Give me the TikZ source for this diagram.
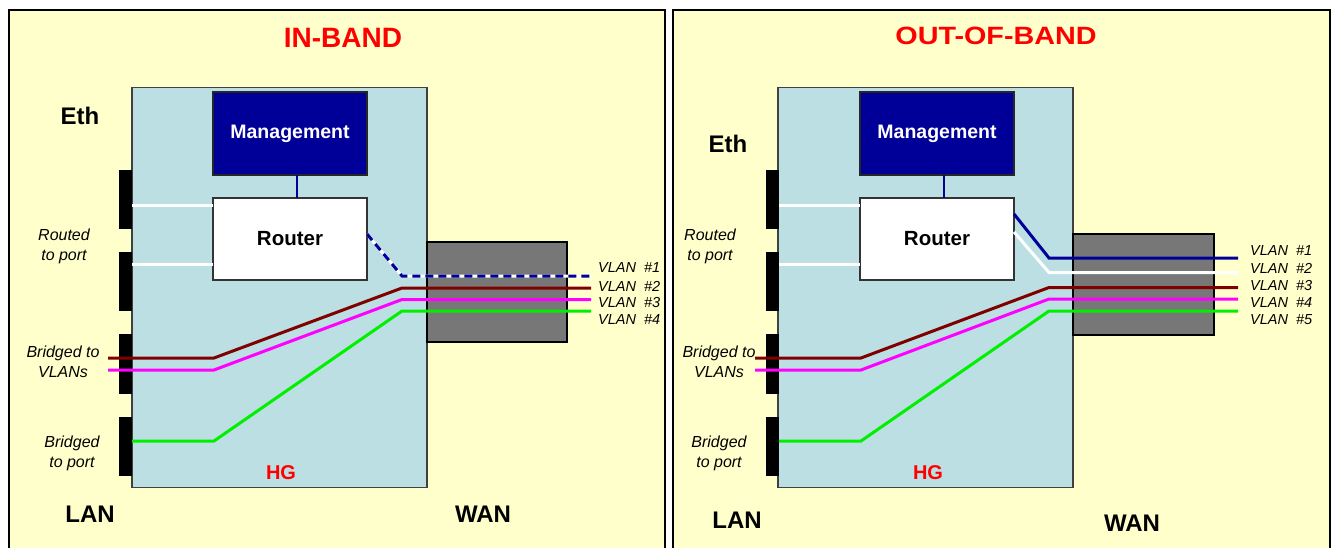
\documentclass[tikz,border=0pt]{standalone}
\usepackage{fontspec}
\setmainfont{Liberation Sans}
\definecolor{bgyellow}{RGB}{255,255,204}
\definecolor{hgblue}{RGB}{187,223,227}
\definecolor{mgmtblue}{RGB}{0,0,153}
\definecolor{wangray}{RGB}{119,119,119}
\definecolor{vbrown}{RGB}{128,0,0}
\definecolor{vmag}{RGB}{255,0,255}
\definecolor{vgreen}{RGB}{0,240,0}
\definecolor{titlered}{RGB}{255,0,0}
\tikzset{
  panel/.style={draw=black, line width=1.3pt, fill=bgyellow},
  hgbox/.style={draw=black!75, line width=1.3pt, fill=hgblue, inner sep=0pt, outer sep=0pt},
  mgmtbox/.style={draw=black!85, line width=1.3pt, fill=mgmtblue, text=white,
    font=\fontsize{19.5}{22}\selectfont\bfseries, inner sep=0pt, outer sep=0pt,
    minimum width=154pt, minimum height=83pt},
  routerbox/.style={draw=black!80, line width=1.3pt, fill=white,
    font=\fontsize{20.5}{23}\selectfont\bfseries, inner sep=0pt, outer sep=0pt,
    minimum width=154pt, minimum height=82pt},
  wanbox/.style={draw=black, line width=1.3pt, fill=wangray, inner sep=0pt, outer sep=0pt},
  port/.style={fill=black, inner sep=0pt, outer sep=0pt, minimum width=13pt, minimum height=59pt},
  title/.style={text=titlered, font=\fontsize{28}{30}\selectfont\bfseries},
  big/.style={font=\fontsize{24}{26}\selectfont\bfseries},
  hglabel/.style={text=titlered, font=\fontsize{20}{22}\selectfont\bfseries},
  side/.style={font=\fontsize{16}{20}\selectfont\itshape, align=center, inner sep=0pt},
  vlan/.style={font=\fontsize{14.5}{16}\selectfont\itshape, anchor=west, inner sep=0pt},
  link/.style={line width=3pt, line join=miter},
  wline/.style={link, draw=white},
  mline/.style={line width=2pt, draw=mgmtblue},
}
\begin{document}
\begin{tikzpicture}[x=1pt, y=-1pt]
\useasboundingbox (0,0) rectangle (1332,548);
\clip (0,0) rectangle (1332,548);
\fill[white] (0,0) rectangle (1332,548);

% ================= LEFT PANEL: IN-BAND =================
\draw[panel] (9,10) rectangle (665,552);
\node[title] (Ltitle) at (343,38) {IN-BAND};
\node[hgbox, minimum width=295pt, minimum height=400pt] (Lhg) at (279.5,287.5) {};
\node[wanbox, minimum width=140pt, minimum height=100pt] (Lwan) at (497,292) {};
\node[port] (Lp1) at (125.5,199.5) {};
\node[port] (Lp2) at (125.5,281.5) {};
\node[port, minimum height=60pt] (Lp3) at (125.5,364) {};
\node[port] (Lp4) at (125.5,446.5) {};
\node[mgmtbox] (Lmg) at (290,133.5) {Management};
\node[routerbox] (Lrt) at (290,239) {Router};
\draw[mline] ([xshift=7pt]Lmg.south) -- ([xshift=7pt]Lrt.north);

\coordinate (Lw1) at (132,205);
\coordinate (Lw2) at (132,264);
\draw[wline] (Lw1) -- (Lw1 -| Lrt.west);
\draw[wline] (Lw2) -- (Lw2 -| Lrt.west);

\coordinate (Ld1) at (402,276);
\coordinate (Ld2) at (591,276);
\draw[wline] ([yshift=5pt]Lrt.east) -- (Ld1) -- (Ld2);
\draw[link, draw=mgmtblue, dash pattern=on 8pt off 5pt] ([yshift=5pt]Lrt.east) -- (Ld1) -- (Ld2);

\coordinate (Lb0) at (108,358);
\coordinate (Lb1) at (214,358);
\coordinate (Lb2) at (402,288);
\coordinate (Lb3) at (591,288);
\draw[link, draw=vbrown] (Lb0) -- (Lb1) -- (Lb2) -- (Lb3);
\coordinate (Lm0) at (108,370);
\coordinate (Lm1) at (214,370);
\coordinate (Lm2) at (402,299.5);
\coordinate (Lm3) at (591,299.5);
\draw[link, draw=vmag] (Lm0) -- (Lm1) -- (Lm2) -- (Lm3);
\coordinate (Lg0) at (Lp4.east |- 0,441);
\coordinate (Lg1) at (214,441);
\coordinate (Lg2) at (402,311);
\coordinate (Lg3) at (591,311);
\draw[link, draw=vgreen] (Lg0) -- (Lg1) -- (Lg2) -- (Lg3);

\node[vlan] (Lv1) at (598,268) {VLAN~ \#1};
\node[vlan] (Lv2) at (598,286) {VLAN~ \#2};
\node[vlan] (Lv3) at (598,303) {VLAN~ \#3};
\node[vlan] (Lv4) at (598,320) {VLAN~ \#4};

\node[big] (Leth) at (80,116) {Eth};
\node[side] (Lrouted) at (64,246) {Routed\\to port};
\node[side] (Lbv) at (63,362) {Bridged to\\VLANs};
\node[side] (Lbp) at (72,453.5) {Bridged\\to port};
\node[hglabel] (Lhgl) at (281,473) {HG};
\node[big] (Llan) at (90,514) {LAN};
\node[big] (Lwanl) at (483,514) {WAN};

% ================= RIGHT PANEL: OUT-OF-BAND =================
\draw[panel] (673,10) rectangle (1330,552);
\node[title, font=\fontsize{25}{28}\selectfont\bfseries, xscale=1.15, transform shape] (Rtitle) at (996,36) {OUT-OF-BAND};
\node[hgbox, minimum width=295pt, minimum height=400pt] (Rhg) at (925.5,287.5) {};
\node[wanbox, minimum width=141pt, minimum height=101pt] (Rwan) at (1143.5,284.5) {};
\node[port] (Rp1) at (772.5,199.5) {};
\node[port] (Rp2) at (772.5,281.5) {};
\node[port, minimum height=60pt] (Rp3) at (772.5,364) {};
\node[port] (Rp4) at (772.5,446.5) {};
\node[mgmtbox] (Rmg) at (937,133.5) {Management};
\node[routerbox] (Rrt) at (937,239) {Router};
\draw[mline] ([xshift=7pt]Rmg.south) -- ([xshift=7pt]Rrt.north);

\coordinate (Rw1) at (779,205.5);
\coordinate (Rw2) at (779,264.5);
\draw[wline] (Rw1) -- (Rw1 -| Rrt.west);
\draw[wline] (Rw2) -- (Rw2 -| Rrt.west);

\coordinate (Ru1) at (1049,258);
\coordinate (Ru2) at (1238,258);
\draw[link, draw=mgmtblue] ([yshift=25pt]Rrt.east) -- (Ru1) -- (Ru2);
\coordinate (Rx1) at (1049,272.5);
\coordinate (Rx2) at (1238,272.5);
\draw[wline] ([yshift=7pt]Rrt.east) -- (Rx1) -- (Rx2);

\coordinate (Rb0) at (755,358);
\coordinate (Rb1) at (861,358);
\coordinate (Rb2) at (1049,287.5);
\coordinate (Rb3) at (1238,287.5);
\draw[link, draw=vbrown] (Rb0) -- (Rb1) -- (Rb2) -- (Rb3);
\coordinate (Rm0) at (755,370);
\coordinate (Rm1) at (861,370);
\coordinate (Rm2) at (1049,299);
\coordinate (Rm3) at (1238,299);
\draw[link, draw=vmag] (Rm0) -- (Rm1) -- (Rm2) -- (Rm3);
\coordinate (Rg0) at (Rp4.east |- 0,441);
\coordinate (Rg1) at (861,441);
\coordinate (Rg2) at (1049,311);
\coordinate (Rg3) at (1238,311);
\draw[link, draw=vgreen] (Rg0) -- (Rg1) -- (Rg2) -- (Rg3);

\node[vlan] (Rv1) at (1250,251) {VLAN~ \#1};
\node[vlan] (Rv2) at (1250,268.5) {VLAN~ \#2};
\node[vlan] (Rv3) at (1250,286) {VLAN~ \#3};
\node[vlan] (Rv4) at (1250,302.5) {VLAN~ \#4};
\node[vlan] (Rv5) at (1250,320) {VLAN~ \#5};

\node[big] (Reth) at (728,144) {Eth};
\node[side] (Rrouted) at (710,246) {Routed\\to port};
\node[side] (Rbv) at (719,362) {Bridged to\\VLANs};
\node[side] (Rbp) at (719,453.5) {Bridged\\to port};
\node[hglabel] (Rhgl) at (928,473) {HG};
\node[big] (Rlan) at (737,520) {LAN};
\node[big] (Rwanl) at (1132,523) {WAN};
\end{tikzpicture}
\end{document}
